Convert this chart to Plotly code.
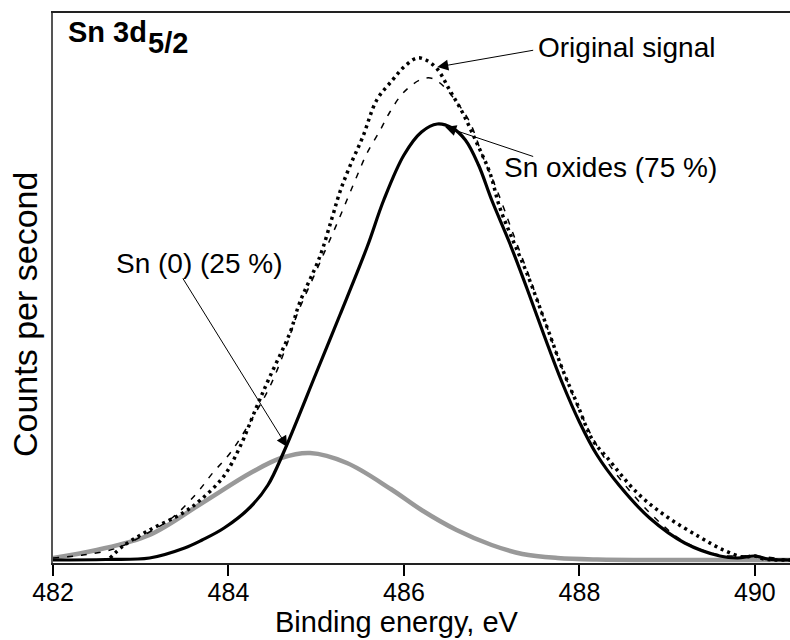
import plotly.graph_objects as go

# Binding energy (eV) and counts (arbitrary units)
orig_x = [482.65, 482.8, 483.1, 483.48, 483.68, 483.94, 484.13, 484.32, 484.47, 484.7, 484.81,
          485.04, 485.18, 485.27, 485.38, 485.53, 485.69, 485.87, 486.0, 486.15, 486.25, 486.38,
          486.52, 486.67, 486.83, 486.98, 487.09, 487.25, 487.4, 487.63, 487.81, 487.97, 488.15,
          488.31, 488.66, 489.0, 489.37, 489.64, 489.86, 490.0, 490.1, 490.4]
orig_y = [2, 14, 30, 47, 60, 83, 113, 153, 183, 227, 257,
          303, 342, 368, 393, 423, 460, 480, 493, 502, 500, 491,
          470, 447, 417, 387, 353, 318, 287, 233, 190, 157, 120,
          103, 67, 43, 23, 10, 3, 4, 1, 0]

fit_x = [482.0, 482.34, 482.73, 483.1, 483.37, 483.64, 483.82, 484.02, 484.24, 484.47, 484.66,
         484.78, 484.99, 485.12, 485.24, 485.35, 485.46, 485.58, 485.73, 485.84, 485.99, 486.18,
         486.3, 486.41, 486.6, 486.75, 486.9, 487.06, 487.25, 487.45, 487.65, 487.85, 488.05,
         488.25, 488.5, 488.85, 489.2, 489.6, 490.0, 490.4]
fit_y = [2, 5, 12, 28, 43, 67, 87, 107, 137, 173, 214,
         245, 287, 313, 337, 360, 383, 407, 430, 448, 467, 480,
         482, 477, 458, 438, 403, 370, 325, 278, 228, 181, 140,
         107, 77, 43, 18, 5, 4, 0]

ox_x = [482.0, 482.6, 483.1, 483.5, 483.7, 483.95, 484.25, 484.45, 484.63, 485.0, 485.27,
        485.58, 485.77, 486.0, 486.2, 486.38, 486.55, 486.7, 486.85, 487.0, 487.2, 487.4,
        487.6, 487.8, 488.0, 488.2, 488.45, 488.8, 489.2, 489.6, 489.8, 490.0, 490.15, 490.4]
ox_y = [0, 0.5, 2, 12, 20, 32, 53, 75, 108, 187, 245,
        313, 360, 405, 428, 436, 432, 420, 395, 360, 318, 272,
        224, 178, 138, 105, 75, 42, 17, 4, 2, 4, 1, 0]

sn0_x = [482.0, 482.5, 483.1, 483.7, 484.25, 484.6, 484.93, 485.35, 485.85, 486.2, 486.6,
         487.0, 487.35, 487.75, 488.2, 489.0, 490.4]
sn0_y = [2, 10, 25, 57, 87, 102, 107, 97, 71, 50, 30,
         15, 6, 2, 0.5, 0, 0]

x_ticks = [482, 484, 486, 488, 490]

FONT = "Liberation Sans, Arial, sans-serif"

fig = go.Figure()
fig.add_trace(go.Scatter(x=sn0_x, y=sn0_y, mode="lines", line=dict(color="#999999", width=4.5, shape="spline")))
fig.add_trace(go.Scatter(x=ox_x, y=ox_y, mode="lines", line=dict(color="black", width=3.2, shape="spline")))
fig.add_trace(go.Scatter(x=fit_x, y=fit_y, mode="lines", line=dict(color="black", width=1.5, dash="6px,8px", shape="spline")))
fig.add_trace(go.Scatter(x=orig_x, y=orig_y, mode="lines", line=dict(color="black", width=3.5, dash="3px,4px", shape="spline")))

ann = []
arrows = [
    (486.38, 493, 487.49, 510),
    (486.47, 433, 487.49, 403),
    (484.67, 113, 483.47, 283),
]
for tx, ty, sx, sy in arrows:
    ann.append(dict(x=tx, y=ty, ax=sx, ay=sy, xref="x", yref="y", axref="x", ayref="y",
                    text="", showarrow=True, arrowhead=2, arrowsize=2.2, arrowwidth=1, arrowcolor="black"))

labels = [
    ("Original signal", 487.5, 513),
    ("Sn oxides (75 %)", 487.12, 393),
    ("Sn (0) (25 %)", 482.7, 297),
]
for t, x, y in labels:
    ann.append(dict(x=x, y=y, xref="x", yref="y", text=t, showarrow=False, xanchor="left", yanchor="middle",
                    font=dict(family=FONT, size=28, color="black")))

ann.append(dict(x=482.15, y=528, xref="x", yref="y", text="<b>Sn 3d</b>", showarrow=False,
                xanchor="left", yanchor="middle", font=dict(family=FONT, size=29, color="black")))
ann.append(dict(x=483.06, y=517, xref="x", yref="y", text="<b>5/2</b>", showarrow=False,
                xanchor="left", yanchor="middle", font=dict(family=FONT, size=29, color="black")))

ann.append(dict(x=(397 - 53) / 737, y=(563 - 622) / 550, xref="paper", yref="paper", text="Binding energy, eV",
                showarrow=False, xanchor="center", yanchor="middle", borderpad=0,
                font=dict(family=FONT, size=29, color="black")))
ann.append(dict(x=(25 - 53) / 737, y=(563 - 315) / 550, xref="paper", yref="paper", text="Counts per second",
                showarrow=False, textangle=-90, xanchor="center", yanchor="middle",
                font=dict(family=FONT, size=34, color="black")))

fig.update_layout(
    width=790, height=640,
    margin=dict(l=53, r=0, t=13, b=77),
    paper_bgcolor="white", plot_bgcolor="white",
    showlegend=False,
    annotations=ann,
    xaxis=dict(range=[482, 490.4], tickvals=x_ticks, ticktext=[str(v) for v in x_ticks],
               showgrid=False, zeroline=False, showline=True, linecolor="#222", linewidth=2,
               mirror=True, ticks="outside", ticklen=11, tickwidth=1.5, tickcolor="black",
               ticklabelstandoff=-5,
               tickfont=dict(family=FONT, size=25, color="black")),
    yaxis=dict(range=[-3, 547], showgrid=False, zeroline=False, showline=True, linecolor="#555",
               linewidth=1.5, showticklabels=False, ticks=""),
)

fig.write_html("out.html")
